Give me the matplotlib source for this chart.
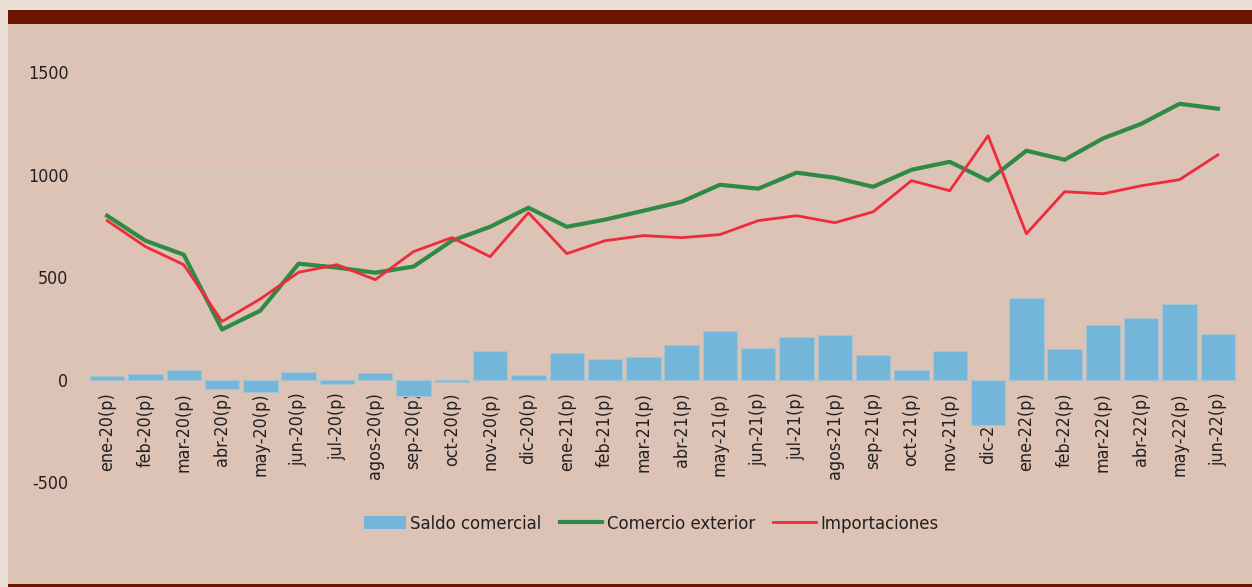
import matplotlib
matplotlib.use("Agg")
import matplotlib.pyplot as plt
from matplotlib.patches import Rectangle, Patch
from matplotlib.lines import Line2D
from matplotlib import font_manager as fm
import numpy as np

categories = ["ene-20(p)", "feb-20(p)", "mar-20(p)", "abr-20(p)", "may-20(p)", "jun-20(p)",
              "jul-20(p)", "agos-20(p)", "sep-20(p)", "oct-20(p)", "nov-20(p)", "dic-20(p)",
              "ene-21(p)", "feb-21(p)", "mar-21(p)", "abr-21(p)", "may-21(p)", "jun-21(p)",
              "jul-21(p)", "agos-21(p)", "sep-21(p)", "oct-21(p)", "nov-21(p)", "dic-21(p)",
              "ene-22(p)", "feb-22(p)", "mar-22(p)", "abr-22(p)", "may-22(p)", "jun-22(p)"]

saldo_comercial = [16, 29, 46, -47, -63, 36, -20, 32, -81, -12, 141, 21,
                   131, 99, 112, 170, 239, 153, 206, 219, 119, 46, 141, -220,
                   398, 151, 266, 299, 367, 223]

comercio_exterior = [799, 677, 609, 244, 336, 565, 546, 521, 551, 677, 745, 838,
                     745, 780, 823, 867, 950, 931, 1009, 984, 940, 1023, 1062, 970,
                     1116, 1072, 1176, 1247, 1345, 1321]

importaciones = [775, 648, 560, 283, 393, 523, 560, 487, 624, 692, 599, 814,
                 614, 677, 702, 692, 707, 775, 799, 765, 818, 970, 921, 1189,
                 711, 916, 906, 945, 975, 1096]

y_ticks = [-500, 0, 500, 1000, 1500]

# use a condensed face if one is installed
fonts = fm.fontManager.ttflist
if any(f.name == 'DejaVu Sans' and 'Condensed' in f.fname for f in fonts):
    plt.rcParams['font.family'] = ['DejaVu Sans']
    plt.rcParams['font.stretch'] = 'condensed'
    fsize, lsize = 12.8, 13.2
else:
    plt.rcParams['font.family'] = ['Liberation Sans', 'DejaVu Sans']
    fsize, lsize = 12.5, 12.5

outer_bg = "#ecdfd6"
inner_bg = "#dcc3b5"
band = "#6b1500"
text_c = "#231f20"
bar_c = "#74b6da"
green = "#2e8a45"
red = "#ee2b3b"

fig = plt.figure(figsize=(12.52, 5.87), dpi=100, facecolor=outer_bg)
fig.patches.append(Rectangle((8 / 1252, 0), 1, 1 - 10 / 587, transform=fig.transFigure,
                             facecolor=inner_bg, edgecolor='none', zorder=-10))
fig.patches.append(Rectangle((8 / 1252, 1 - 24 / 587), 1, 14 / 587, transform=fig.transFigure,
                             facecolor=band, edgecolor='none', zorder=-9))
fig.patches.append(Rectangle((8 / 1252, 0), 1, 3 / 587, transform=fig.transFigure,
                             facecolor=band, edgecolor='none', zorder=-9))

ax = fig.add_axes([88 / 1252, 0.1579, 1149 / 1252, 0.7404])
ax.set_facecolor('none')
ax.spines['bottom'].set_position(('data', 0))
for s in ax.spines.values():
    s.set_visible(False)

x = np.arange(len(categories))

ax.bar(x, saldo_comercial, width=0.9, color=bar_c, edgecolor="#a6c3d2", linewidth=0.8, zorder=2)
ax.plot(x, comercio_exterior, color=green, linewidth=3.0, zorder=3)
ax.plot(x, importaciones, color=red, linewidth=2.0, zorder=4)

ax.set_xlim(-0.5, len(categories) - 0.5)
ax.set_ylim(-560, 1560)
ax.set_yticks(y_ticks)
ax.set_yticklabels([str(v) for v in y_ticks])
ax.grid(axis='y', color="#cdc8c3", linewidth=1.2)
ax.set_axisbelow(True)

ax.set_xticks(x)
ax.set_xticklabels(categories, rotation=90, va='top', ha='center')
ax.tick_params(axis='x', length=0, pad=9, labelsize=fsize, labelcolor=text_c)
ax.tick_params(axis='y', length=0, pad=14, labelsize=fsize, labelcolor=text_c)

handles = [Patch(facecolor=bar_c, edgecolor='none'),
           Line2D([], [], color=green, linewidth=3.0),
           Line2D([], [], color=red, linewidth=2.0)]
labels = ["Saldo comercial", "Comercio exterior", "Importaciones"]
fig.legend(handles, labels, loc='center', bbox_to_anchor=(651 / 1252, 1 - 524 / 587), ncol=3,
           frameon=False, fontsize=lsize, handlelength=2.3, handleheight=0.75,
           handletextpad=0.25, columnspacing=1.0, labelcolor=text_c)

fig.savefig("out.png", dpi=100, facecolor=outer_bg)
